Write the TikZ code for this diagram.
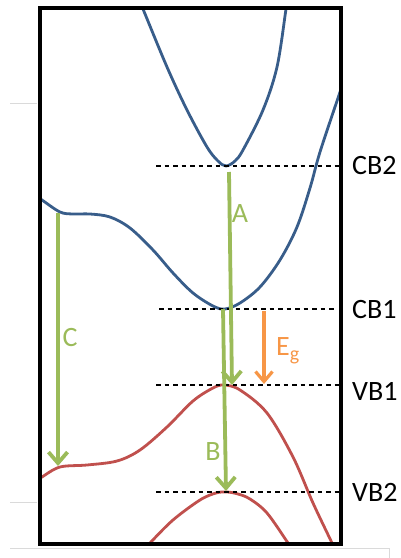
\documentclass[tikz,border=0pt]{standalone}
\usepackage{fontspec}
\setmainfont{Carlito}
\usetikzlibrary{arrows.meta}
\definecolor{bandblue}{HTML}{385D8A}
\definecolor{bandred}{HTML}{C0504D}
\definecolor{trgreen}{HTML}{9BBB59}
\definecolor{egorange}{HTML}{F79646}
\definecolor{faint}{HTML}{DADADA}
\tikzset{
  cband/.style={draw=bandblue, line width=2.8pt},
  vband/.style={draw=bandred, line width=2.8pt},
  level/.style={draw=black, line width=1.1pt, dash pattern=on 4.5pt off 4pt},
  trans/.style={draw=trgreen, line width=3.8pt, -{Straight Barb[length=11pt,width=19pt,line width=3.8pt]}},
  gaparrow/.style={draw=egorange, line width=3.2pt, -{Straight Barb[length=10pt,width=17pt,line width=3.2pt]}},
  lbl/.style={inner sep=0pt, font=\fontsize{28}{32}\selectfont},
  glbl/.style={lbl, text=trgreen},
  frame/.style={draw=black, line width=4.6pt},
  guide/.style={draw=faint, line width=0.8pt}
}
\begin{document}
\begin{tikzpicture}[x=1pt,y=-1pt]
\useasboundingbox (0,0) rectangle (400,558);
% faint guide lines
\draw[guide] (10,103) -- (37,103);
\draw[guide] (10,502) -- (37,502);
\draw[guide] (10,548) -- (389,548) -- (389,558);
% bands, clipped to frame
\begin{scope}
\clip (40,8) rectangle (341,544);
\draw[cband] plot[smooth, tension=0.55] coordinates {(140,2) (143,9) (167,67) (187,110) (207,147) (218,161) (226,166) (235,161) (243,150) (263,110) (277,67) (286,9) (287,2)};
\draw[cband] plot[smooth, tension=0.55] coordinates {(36,196) (42,200) (60,212) (73,214) (90,214) (110,217) (130,228) (153,250) (173,273) (193,293) (213,306) (225,309) (240,303) (260,287) (280,260) (297,227) (310,188) (320,152) (338,98) (342,86)};
\draw[vband] plot[smooth, tension=0.55] coordinates {(36,481) (42,477) (60,467) (87,465) (117,461) (140,450) (167,427) (193,401) (213,388) (224,385) (240,390) (267,413) (293,457) (313,503) (332,543) (334,548)};
\draw[vband] plot[smooth, tension=0.55] coordinates {(146,548) (150,543) (173,520) (200,500) (216,493) (227,492) (238,494) (250,499) (267,513) (288,543) (291,548)};
\end{scope}
% frame
\draw[frame] (40,8) rectangle (341,544);
% level lines and labels
\coordinate (cb2l) at (156,166); \coordinate (cb2r) at (340,166);
\coordinate (cb1l) at (159,309); \coordinate (cb1r) at (334,309);
\coordinate (vb1l) at (156,385); \coordinate (vb1r) at (340,385);
\coordinate (vb2l) at (156,492); \coordinate (vb2r) at (340,492);
\draw[level] (cb2l) -- (cb2r);
\draw[level] (cb1l) -- (cb1r);
\draw[level] (vb1l) -- (vb1r);
\draw[level] (vb2l) -- (vb2r);
\node[lbl, anchor=west] (tcb2) at (352,166) {CB2};
\node[lbl, anchor=west] (tcb1) at (352,310) {CB1};
\node[lbl, anchor=west] (tvb1) at (352,391) {VB1};
\node[lbl, anchor=west] (tvb2) at (352,492) {VB2};
% transitions
\coordinate (a0) at (229,172); \coordinate (a1) at (232,385);
\coordinate (b0) at (223,309); \coordinate (b1) at (226,491);
\coordinate (c0) at (58,213);  \coordinate (c1) at (58,466);
\coordinate (e0) at (264,311); \coordinate (e1) at (264,384);
\draw[trans] (a0) -- (a1);
\draw[trans] (b0) -- (b1);
\draw[trans] (c0) -- (c1);
\draw[gaparrow] (e0) -- (e1);
\node[glbl, anchor=base] (la) at (240,222) {A};
\node[glbl, anchor=base] (lb) at (213,460) {B};
\node[glbl, anchor=base] (lc) at (70,346) {C};
\node[lbl, text=egorange, anchor=base west] (leg) at (276,355) {E\raisebox{-5pt}{\fontsize{20}{20}\selectfont g}};
\end{tikzpicture}
\end{document}
